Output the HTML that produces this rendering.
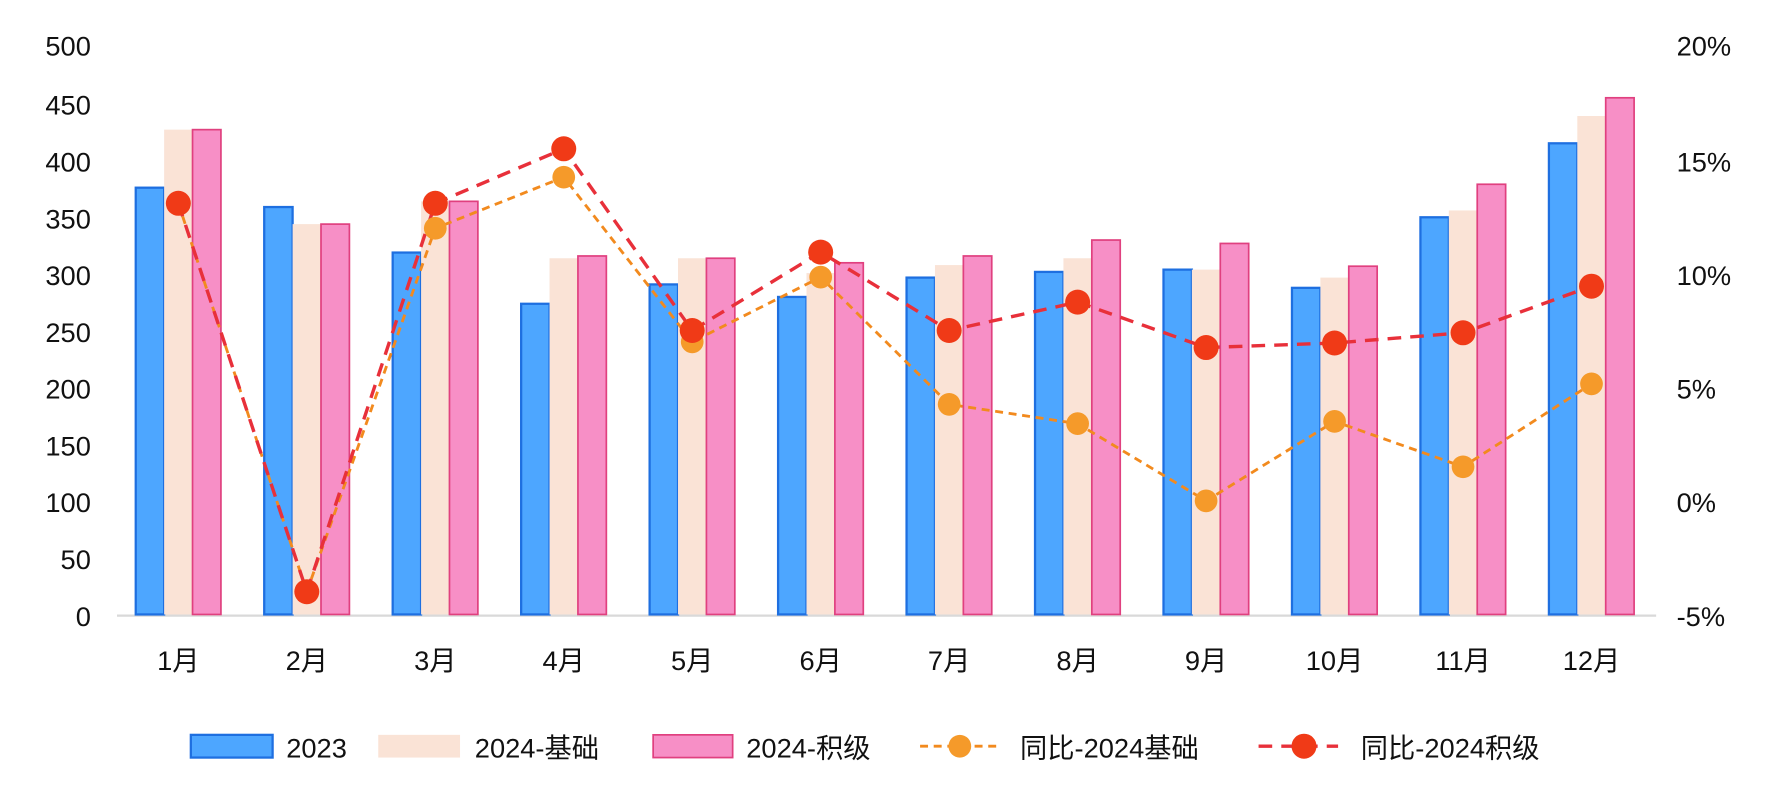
<!DOCTYPE html>
<html><head><meta charset="utf-8"><style>
html,body{margin:0;padding:0;background:#fff;}
svg{display:block;}
text{font-family:"Liberation Sans","Noto Sans CJK SC",sans-serif;fill:#111;}
</style></head><body>
<svg width="1772" height="803" viewBox="0 0 1560 707" preserveAspectRatio="none" xmlns="http://www.w3.org/2000/svg">
<g font-size="24" text-anchor="end">
<text x="80" y="49">500</text><text x="80" y="101">450</text><text x="80" y="151">400</text><text x="80" y="201">350</text><text x="80" y="251">300</text><text x="80" y="301">250</text><text x="80" y="351">200</text><text x="80" y="401">150</text><text x="80" y="451">100</text><text x="80" y="501">50</text><text x="80" y="551">0</text>
</g>
<g font-size="24" text-anchor="start">
<text x="1476" y="49">20%</text><text x="1476" y="151">15%</text><text x="1476" y="251">10%</text><text x="1476" y="351">5%</text><text x="1476" y="451">0%</text><text x="1476" y="551">-5%</text>
</g>
<line x1="103" y1="542" x2="1458" y2="542" stroke="#d9d9d9" stroke-width="2"/>
<g id="bars"></g>
<g id="lines"></g>
<g font-size="24" text-anchor="middle" id="xl"></g>
<g font-size="24">
<rect x="168" y="647" width="72" height="20" fill="#4da6ff" stroke="#1e6fe0" stroke-width="2"/>
<text x="252" y="667">2023</text>
<rect x="333" y="647" width="72" height="20" fill="#fae3d6"/>
<text x="418" y="667">2024-基础</text>
<rect x="575" y="647" width="70" height="20" fill="#f78fc6" stroke="#e0407f" stroke-width="1.5"/>
<text x="657" y="667">2024-积级</text>
<line x1="810" y1="657" x2="878" y2="657" stroke="#f28a1e" stroke-width="2.5" stroke-dasharray="7 5"/>
<circle cx="845" cy="657" r="10" fill="#f59a2a"/>
<text x="898" y="667">同比-2024基础</text>
<line x1="1108" y1="657" x2="1178" y2="657" stroke="#e8303a" stroke-width="3" stroke-dasharray="12 8"/>
<circle cx="1148" cy="657" r="11" fill="#f03a17"/>
<text x="1198" y="667">同比-2024积级</text>
</g>
</svg>
<script>
const ns="http://www.w3.org/2000/svg";
const blue=[375,358,318,273,290,279,296,301,303,287,349,414];
const beige=[426,343,363,313,313,300,307,313,303,296,355,438];
const pink=[426,343,363,315,313,309,315,329,326,306,378,454];
const red=[179,521,179,131,291,222,291,266,306,302,293,252];
const org=[179,521,201,156,301,244,356,373,441,371,411,338];
const Y=v=>541-v*1.002;
const bars=document.getElementById('bars'),lines=document.getElementById('lines'),xl=document.getElementById('xl');
function el(t,a,p){const e=document.createElementNS(ns,t);for(const k in a)e.setAttribute(k,a[k]);p.appendChild(e);return e;}
for(let i=0;i<12;i++){const c=157+113.1*i;
 el('rect',{x:c-37.5,y:Y(blue[i]),width:25,height:541-Y(blue[i]),fill:'#4da6ff',stroke:'#1e6fe0','stroke-width':2},bars);
 el('rect',{x:c-12.5,y:Y(beige[i]),width:25,height:541-Y(beige[i]),fill:'#fae3d6'},bars);
 el('rect',{x:c+12.5,y:Y(pink[i]),width:25,height:541-Y(pink[i]),fill:'#f78fc6',stroke:'#e0407f','stroke-width':1.5},bars);
 const t=el('text',{x:c,y:590},xl);t.textContent=(i+1)+'月';}
const pts=a=>a.map((y,i)=>(157+113.1*i)+','+y).join(' ');
el('polyline',{points:pts(org),fill:'none',stroke:'#f28a1e','stroke-width':2.5,'stroke-dasharray':'7 5'},lines);
el('polyline',{points:pts(red),fill:'none',stroke:'#e8303a','stroke-width':3,'stroke-dasharray':'12 8'},lines);
org.forEach((y,i)=>el('circle',{cx:157+113.1*i,cy:y,r:10,fill:'#f59a2a'},lines));
red.forEach((y,i)=>el('circle',{cx:157+113.1*i,cy:y,r:11,fill:'#f03a17'},lines));
</script>
</body></html>
